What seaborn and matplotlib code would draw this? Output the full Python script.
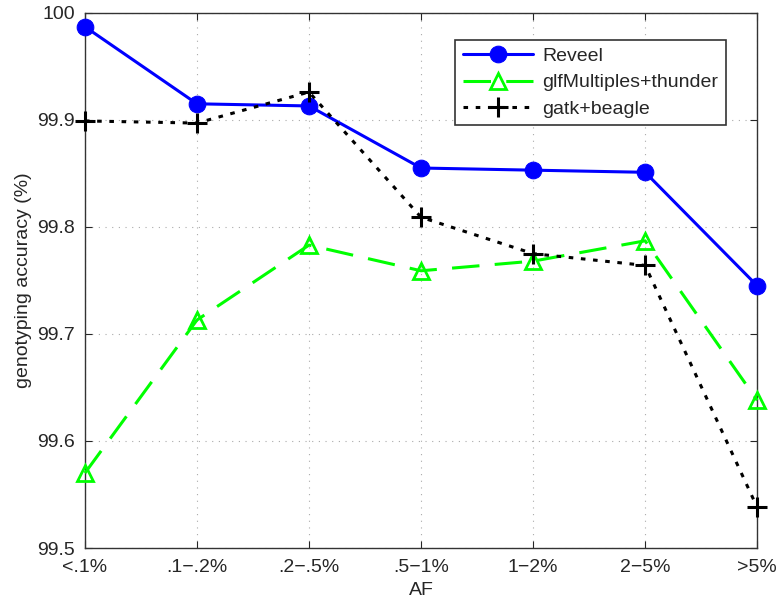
import matplotlib
matplotlib.use("Agg")
import matplotlib.pyplot as plt
import seaborn as sns
import pandas as pd

categories = ["<.1%", ".1\u2212.2%", ".2\u2212.5%", ".5\u22121%", "1\u22122%", "2\u22125%", ">5%"]
reveel = [99.987, 99.915, 99.913, 99.855, 99.853, 99.851, 99.745]
glf_thunder = [99.570, 99.713, 99.783, 99.759, 99.768, 99.787, 99.638]
gatk_beagle = [99.899, 99.897, 99.926, 99.809, 99.775, 99.764, 99.538]

sns.set_style("ticks")
plt.rcParams["font.family"] = ["Liberation Sans", "DejaVu Sans"]

fig = plt.figure(figsize=(7.79, 6.02), dpi=100)
ax = fig.add_axes([0.109, 0.0897, 0.863, 0.889])

df = pd.DataFrame({"AF": categories, "Reveel": reveel,
                   "glfMultiples+thunder": glf_thunder, "gatk+beagle": gatk_beagle})

sns.lineplot(data=df, x="AF", y="Reveel", ax=ax, color="#0000ff", lw=2.2,
             marker="o", markersize=12, markeredgecolor="#0000ff", label="Reveel",
             clip_on=False, zorder=5)
sns.lineplot(data=df, x="AF", y="glfMultiples+thunder", ax=ax, color="#00ff00", lw=2.2,
             marker="^", markersize=12, markerfacecolor="none", markeredgecolor="#00ff00",
             markeredgewidth=2, label="glfMultiples+thunder", clip_on=False, zorder=4)
ax.lines[-1].set_dashes([9, 5])
sns.lineplot(data=df, x="AF", y="gatk+beagle", ax=ax, color="black", lw=2.2,
             marker="+", markersize=14, markeredgewidth=2.2, markeredgecolor="black",
             label="gatk+beagle", clip_on=False, zorder=6)
ax.lines[-1].set_dashes([1.5, 2.5])

ax.set_xlim(0, len(categories) - 1)
ax.set_ylim(99.5, 100)
ax.set_yticks([99.5, 99.6, 99.7, 99.8, 99.9, 100])
ax.set_yticklabels(["99.5", "99.6", "99.7", "99.8", "99.9", "100"])
ax.set_xlabel("AF", fontsize=14, labelpad=4)
ax.set_ylabel("genotyping accuracy (%)", fontsize=14, labelpad=4)
ax.tick_params(direction="in", labelsize=14, length=5, top=True, right=True)
ax.tick_params(axis="x", pad=8)
ax.tick_params(axis="y", pad=7)
ax.grid(True, linestyle=(0, (1, 5)), color="#aaaaaa", linewidth=0.8)
for s in ax.spines.values():
    s.set_visible(True)
    s.set_color("#333333")
    s.set_linewidth(1)

leg = ax.legend(loc="upper right", bbox_to_anchor=(0.954, 0.95), borderaxespad=0,
                fontsize=14, frameon=True, fancybox=False, framealpha=1,
                edgecolor="#333333", handlelength=3.6, borderpad=0.4,
                labelspacing=0.45, handletextpad=0.5)
leg.get_frame().set_linewidth(1.2)

fig.savefig("out.png", dpi=100)
